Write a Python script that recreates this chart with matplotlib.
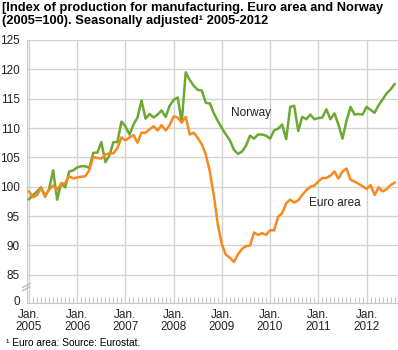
import matplotlib
matplotlib.use("Agg")
import matplotlib.pyplot as plt
import numpy as np

# Monthly index values, Jan 2005 - Aug 2012 (2005=100)
norway = [
    97.9, 98.6, 99.2, 99.9, 98.3, 99.6, 102.8, 97.8, 100.6, 99.9, 102.6, 102.8,
    103.3, 103.5, 103.5, 103.2, 105.8, 105.8, 107.6, 104.2, 105.3, 107.6, 107.6, 111.1,
    110.3, 108.9, 110.6, 111.8, 114.7, 111.6, 112.4, 111.8, 112.3, 113.0, 111.9, 113.8,
    114.8, 115.2, 111.0, 119.5, 118.2, 117.2, 116.5, 116.4, 114.3, 114.2, 112.5, 111.2,
    110.0, 108.9, 107.9, 106.3, 105.6, 106.0, 107.0, 108.7, 108.2, 108.9, 108.9, 108.7,
    108.2, 109.6, 109.9, 110.6, 108.1, 113.6, 113.8, 109.5, 111.9, 111.5, 112.3, 111.5,
    111.7, 111.8, 113.2, 111.5, 112.5, 110.6, 108.2, 111.2, 113.6, 112.3, 112.4, 112.3,
    113.6, 113.1, 112.6, 113.9, 114.9, 115.9, 116.6, 117.5,
]
euro_area = [
    99.2, 98.2, 98.6, 99.8, 98.5, 99.5, 100.2, 99.5, 100.5, 100.6, 101.8, 101.4,
    101.6, 101.7, 101.8, 102.8, 105.1, 104.9, 104.8, 105.5, 105.7, 105.7, 106.6, 108.4,
    107.9, 108.4, 108.8, 107.5, 109.2, 109.2, 109.8, 110.3, 109.6, 110.5, 109.6, 110.5,
    112.0, 111.8, 110.9, 111.9, 108.9, 109.2, 108.3, 107.2, 105.5, 102.6, 98.5, 93.5,
    90.2, 88.4, 87.9, 87.2, 88.5, 89.4, 89.9, 90.0, 92.2, 91.8, 92.1, 91.8,
    92.6, 92.6, 94.9, 95.5, 97.2, 97.8, 97.3, 97.7, 98.6, 99.4, 100.0, 100.2,
    100.9, 101.5, 101.5, 101.9, 102.6, 101.4, 102.6, 103.1, 101.2, 100.9, 100.5, 100.1,
    99.6, 100.3, 98.6, 99.9, 99.2, 99.6, 100.3, 100.7,
]
years = [2005, 2006, 2007, 2008, 2009, 2010, 2011, 2012]
y_ticks = [85, 90, 95, 100, 105, 110, 115, 120, 125]
y_floor = 80.2

plt.rcParams.update({
    "font.family": ["Liberation Sans", "DejaVu Sans"],
    "font.size": 8,
})

GREEN = "#6ca834"
ORANGE = "#f7891f"
GRID = "#d3d3d3"

fig = plt.figure(figsize=(3.98, 3.5), dpi=100)
ax = fig.add_axes([27 / 398, 1 - 303 / 350, 370.5 / 398, 263 / 350])

x = np.arange(len(norway))
ax.plot(x, norway, color=GREEN, linewidth=1.8, solid_joinstyle="round", zorder=3)
ax.plot(x, euro_area, color=ORANGE, linewidth=1.8, solid_joinstyle="round", zorder=3)

ax.set_xlim(-0.5, 91.7)
ax.set_ylim(y_floor, 125)

# horizontal grid + y labels, with "0" at the broken base
ax.set_yticks([y_floor + 0.5] + y_ticks)
ax.set_yticklabels(["0"] + [str(v) for v in y_ticks], fontsize=8.5)
for v in y_ticks:
    ax.axhline(v, color=GRID, linewidth=1, zorder=1)

# yearly gridlines, monthly minor ticks
jan_pos = [12 * i for i in range(len(years))]
ax.set_xticks(jan_pos)
ax.set_xticklabels([f"Jan.\n{y}" for y in years], fontsize=8.5, linespacing=1.0)
ax.set_xticks(np.arange(0, 92), minor=True)
for p in jan_pos[1:]:
    ax.axvline(p, color=GRID, linewidth=1, zorder=1)
ax.axvline(0, color=GRID, linewidth=1, zorder=1)

ax.tick_params(axis="y", length=0, pad=5, colors="#222222")
ax.tick_params(axis="x", which="major", length=0, pad=4.5, colors="#222222")
ax.tick_params(axis="x", which="minor", direction="in", length=4, width=0.8, color="#c8c8c8")

for s in ["top", "right"]:
    ax.spines[s].set_visible(False)
ax.spines["left"].set_color("#c8c8c8")
ax.spines["bottom"].set_color("#c8c8c8")

# axis break mark
for dy in (0.0, 0.012):
    ax.plot([-0.012, 0.008], [0.047 + dy, 0.062 + dy], transform=ax.transAxes,
            color="#b0b0b0", linewidth=0.8, clip_on=False, zorder=4)

ax.text(50.2, 112.6, "Norway", fontsize=8.5, va="center", ha="left", color="#222222")
ax.text(69.8, 97.3, "Euro area", fontsize=8.5, va="center", ha="left", color="#222222")

fig.text(0.005, 0.993, "[Index of production for manufacturing. Euro area and Norway\n"
         "(2005=100). Seasonally adjusted\u00b9 2005-2012",
         fontsize=9.3, fontweight="bold", va="top", ha="left", linespacing=1.05)
fig.text(0.015, 1 - 343 / 350, "\u00b9 Euro area: Source: Eurostat.", fontsize=7.3,
         ha="left", va="center")

fig.savefig("out.png", dpi=100)
plt.close(fig)
